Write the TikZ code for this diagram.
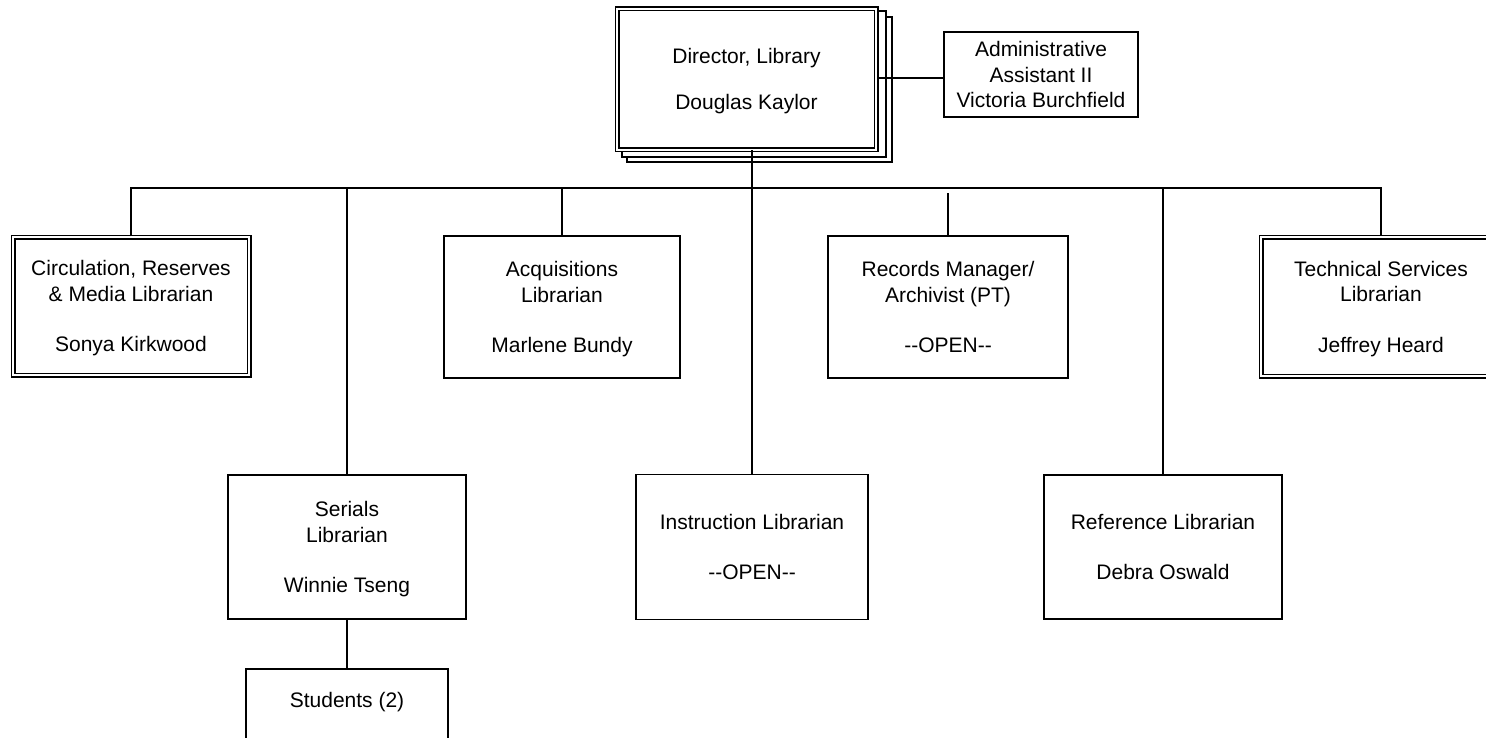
\documentclass[tikz,border=0pt]{standalone}
\usepackage{fontspec}
\setmainfont{Liberation Sans}
\begin{document}
\begin{tikzpicture}[x=1pt,y=-1pt,
  box/.style={draw, line width=1.9pt, fill=white, inner sep=0pt, align=center, text depth=0pt,
    font={\fontsize{21pt}{25.5pt}\selectfont}},
  dbox/.style={box, line width=1.5pt, double, double distance=2pt},
  shadowbox/.style={draw, line width=1.2pt, fill=white, inner sep=0pt},
  lbl/.style={inner sep=0pt, font={\fontsize{21pt}{25.5pt}\selectfont}},
  conn/.style={line width=1.9pt},
  thinconn/.style={line width=1.1pt}]
\useasboundingbox (0,0) rectangle (1486,737);
\clip (0,0) rectangle (1486,737);

% Director with stacked shadows
\node[shadowbox, minimum width=265pt, minimum height=145pt] (dsh2) at (759.5,89.5) {};
\node[shadowbox, minimum width=264pt, minimum height=146pt] (dsh1) at (754,84) {};
\node[dbox, minimum width=259pt, minimum height=141pt] (dir) at (746.5,79)
  {Director, Library\\[20pt]Douglas Kaylor};

\node[box, minimum width=194pt, minimum height=85pt] (adm) at (1041,74.5)
  {Administrative\\Assistant II\\Victoria Burchfield};

% first row
\node[dbox, minimum width=236pt, minimum height=138pt] (circ) at (131,306)
  {Circulation, Reserves\\\& Media Librarian\\[25pt]Sonya Kirkwood};
\node[box, minimum width=236pt, minimum height=142pt] (acq) at (562,307)
  {Acquisitions\\Librarian\\[25pt]Marlene Bundy};
\node[box, minimum width=240pt, minimum height=142pt] (rec) at (948,307)
  {Records Manager/\\Archivist (PT)\\[25pt]-{}-OPEN-{}-};
\node[dbox, minimum width=240pt, minimum height=139pt] (tech) at (1381,306.5)
  {Technical Services\\Librarian\\[25pt]Jeffrey Heard};

% second row
\node[box, minimum width=238pt, minimum height=144pt] (ser) at (347,547)
  {Serials\\Librarian\\[25pt]Winnie Tseng};
\node[box, minimum width=232pt, minimum height=145pt] (ins) at (752,547)
  {Instruction Librarian\\[25pt]-{}-OPEN-{}-};
\node[box, minimum width=238pt, minimum height=144pt] (ref) at (1163,547)
  {Reference Librarian\\[25pt]Debra Oswald};

% students
\node[box, minimum width=202pt, minimum height=120pt, anchor=north] (stu) at (347,668) {};
\node[lbl] (stul) at (347,702) {Students (2)};

% connectors
\coordinate (bus) at (0,188);
\draw[conn] (circ.north) -- (circ.north |- bus) -- (tech.north |- bus) -- (tech.north);
\draw[conn] (acq.north) -- (acq.north |- bus);
\draw[conn] (ser.north) -- (ser.north |- bus);
\draw[conn] (ref.north) -- (ref.north |- bus);
\draw[thinconn] (rec.north) -- ++(0,-42);
\draw[conn] (ins.north) -- (ins.north |- dir.south);
\draw[conn] (ser.south) -- (stu.north);
\draw[conn] ([yshift=-3.5pt]adm.west) -- ([yshift=-3.5pt]adm.west -| dir.east);
\end{tikzpicture}
\end{document}
